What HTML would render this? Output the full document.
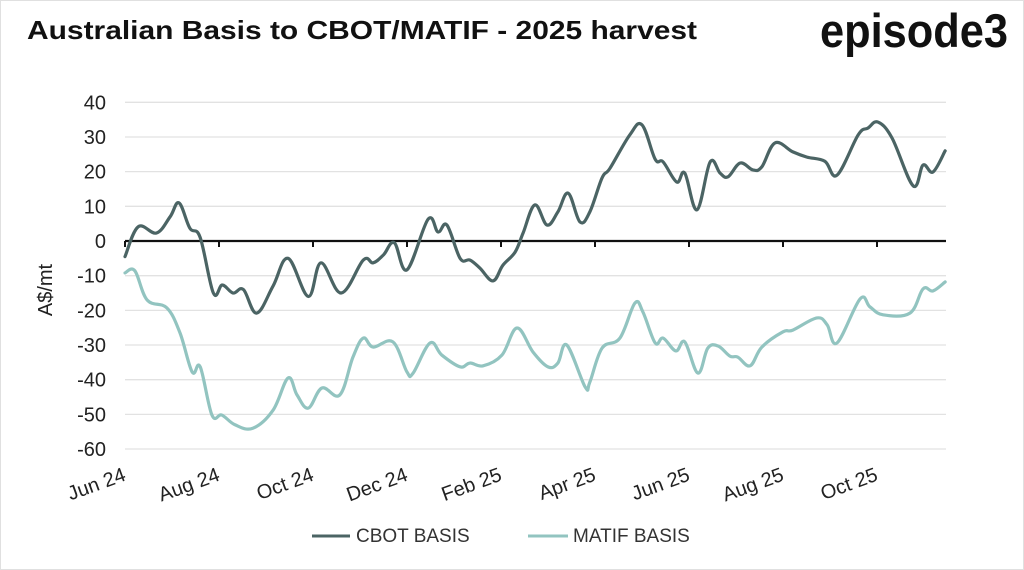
<!DOCTYPE html>
<html><head><meta charset="utf-8"><style>
html,body{margin:0;padding:0;background:#fff}
svg{display:block;font-family:"Liberation Sans",sans-serif}
</style></head><body>
<svg width="1024" height="570" viewBox="0 0 1024 570">
<rect x="0.5" y="0.5" width="1023" height="569" fill="#fff" stroke="#e0e0e0"/>
<text x="27" y="39" font-size="26" font-weight="bold" fill="#111" textLength="670" lengthAdjust="spacingAndGlyphs">Australian Basis to CBOT/MATIF - 2025 harvest</text>
<text x="820" y="47" font-size="47" font-weight="bold" fill="#111" textLength="188" lengthAdjust="spacingAndGlyphs">episode3</text>
<g id="grid"></g>
<g id="yt"></g>
<g id="xt"></g>
<g id="series"></g>
<text transform="translate(52,290) rotate(-90)" text-anchor="middle" font-size="20" fill="#222">A$/mt</text>
<g>
<line x1="312" y1="536" x2="350" y2="536" stroke="#4b6464" stroke-width="3"/>
<text x="356" y="542" font-size="19" fill="#333">CBOT BASIS</text>
<line x1="528" y1="536" x2="568" y2="536" stroke="#92c4c0" stroke-width="3"/>
<text x="573" y="542" font-size="19" fill="#333">MATIF BASIS</text>
</g>
</svg>
<script>
const yTicks=[40,30,20,10,0,-10,-20,-30,-40,-50,-60];
const xLabels=["Jun 24","Aug 24","Oct 24","Dec 24","Feb 25","Apr 25","Jun 25","Aug 25","Oct 25"];
const xLabelMonths=[0,2,4,6,8,10,12,14,16];
const cbotMonths=[0,0.28,0.67,0.96,1.15,1.38,1.6,1.88,2.07,2.3,2.52,2.8,3.15,3.47,3.9,4.17,4.6,5.07,5.28,5.5,5.73,6.0,6.45,6.66,6.85,7.13,7.34,7.55,7.83,8.04,8.3,8.47,8.72,8.98,9.21,9.43,9.68,9.89,10.15,10.32,10.74,11.0,11.28,11.45,11.74,11.91,12.17,12.45,12.66,12.83,13.09,13.36,13.55,13.83,14.21,14.51,14.89,15.15,15.6,15.81,16.02,16.32,16.77,16.98,17.19,17.45];
const cbotValues=[-4.5,4.1,2.3,7,11,3.7,1,-15,-12.7,-15,-14,-20.8,-13,-5,-16,-6.3,-15,-5.5,-6.3,-4,-0.5,-8.3,6.3,2.6,4.6,-5,-5.5,-7.8,-11.5,-7,-3.2,2.3,10.4,4.6,8.4,13.8,5.5,8.4,18.2,21,30.6,33.5,23.6,22.8,17,19.6,9,22.8,19.6,18.5,22.5,20.5,21.4,28.3,25.7,24.2,23,19,30.6,32.6,34.3,29.7,15.9,21.9,19.9,26];
const matifMonths=[0,0.21,0.47,0.89,1.17,1.43,1.6,1.85,2.06,2.34,2.72,3.15,3.47,3.66,3.9,4.19,4.57,4.85,5.07,5.28,5.7,6.0,6.13,6.49,6.74,7.13,7.34,7.62,8.02,8.34,8.68,9.0,9.21,9.4,9.79,9.89,10.15,10.53,10.85,11.02,11.28,11.45,11.72,11.91,12.19,12.4,12.62,12.87,13.04,13.3,13.55,14.0,14.21,14.72,14.94,15.15,15.64,15.85,16.13,16.7,16.98,17.19,17.45];
const matifValues=[-9.2,-8.6,-17,-19.3,-26.5,-37.8,-36.3,-50.2,-50.2,-53,-54,-48.8,-39.5,-44.4,-48.2,-42.4,-44.4,-33.5,-28,-30.6,-29.1,-37.8,-38.1,-29.4,-32.9,-36.3,-35.2,-36,-32.9,-25.1,-32,-36.3,-35.2,-30,-42.1,-40.7,-30.9,-28,-17.9,-20.5,-29.4,-28,-31.7,-29.1,-38.1,-30.9,-30.3,-33.2,-33.5,-36,-30.6,-26.2,-25.7,-22.2,-24.2,-29.4,-16.7,-19,-21.3,-20.8,-13.8,-14.4,-11.8];

const NS="http://www.w3.org/2000/svg";
const X0=125,X1=946,PX_PER_MONTH=47;
function xs(m){return X0+m*PX_PER_MONTH;}
function ys(v){return 241-v*3.467;}
function mk(tag,attrs,parent){const e=document.createElementNS(NS,tag);for(const k in attrs)e.setAttribute(k,attrs[k]);parent.appendChild(e);return e;}
const grid=document.getElementById('grid'),yt=document.getElementById('yt'),xt=document.getElementById('xt'),ser=document.getElementById('series');
yTicks.forEach(v=>{
  if(v!==0){const l=mk('line',{x1:X0,x2:X1,y1:ys(v),y2:ys(v),stroke:'#e2e2e2','stroke-width':1.3},grid);
  
  }
  const t=mk('text',{x:106,y:ys(v)+7,'text-anchor':'end','font-size':20,fill:'#222'},yt);
  t.textContent=v;
  
  
});
const ax=mk('line',{x1:X0,x2:X1,y1:ys(0),y2:ys(0),stroke:'#111','stroke-width':2.2},xt);


xLabelMonths.forEach((m,i)=>{
  const tk=mk('line',{x1:xs(m),x2:xs(m),y1:ys(0),y2:ys(0)+6,stroke:'#111','stroke-width':2},xt);
  
  
  const t=mk('text',{x:0,y:0,'text-anchor':'end','font-size':20,fill:'#222',transform:`translate(${xs(m)+2},${480}) rotate(-20)`},xt);
  t.textContent=xLabels[i];
  
  
});
function smooth(ms,vs){
  const p=ms.map((m,i)=>[xs(m),ys(vs[i])]);
  let d=`M${p[0][0]},${p[0][1]}`;
  for(let i=0;i<p.length-1;i++){
    const p0=p[Math.max(0,i-1)],p1=p[i],p2=p[i+1],p3=p[Math.min(p.length-1,i+2)];
    const t=0.18;
    d+=` C${p1[0]+(p2[0]-p0[0])*t},${p1[1]+(p2[1]-p0[1])*t} ${p2[0]-(p3[0]-p1[0])*t},${p2[1]-(p3[1]-p1[1])*t} ${p2[0]},${p2[1]}`;
  }
  return d;
}
const m=mk('path',{d:smooth(matifMonths,matifValues),fill:'none',stroke:'#92c4c0','stroke-width':3.2,'stroke-linejoin':'round','stroke-linecap':'round'},ser);


const c=mk('path',{d:smooth(cbotMonths,cbotValues),fill:'none',stroke:'#4b6464','stroke-width':3.2,'stroke-linejoin':'round','stroke-linecap':'round'},ser);


</script>
</body></html>
